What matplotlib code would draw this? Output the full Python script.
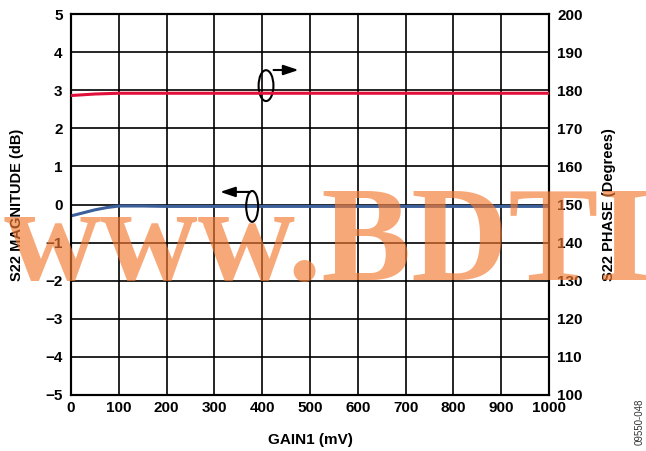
import matplotlib
matplotlib.use("Agg")
import matplotlib.pyplot as plt
from matplotlib.patches import Ellipse

plt.rcParams['font.family'] = ['Liberation Sans', 'DejaVu Sans']

gain_mv = [0, 25, 50, 75, 100, 150, 200, 300, 400, 500, 600, 700, 800, 900, 1000]
s22_mag_db = [-0.30, -0.22, -0.14, -0.08, -0.04, -0.04, -0.05, -0.05, -0.05, -0.05, -0.05, -0.05, -0.05, -0.05, -0.05]
s22_phase_deg = [178.6, 178.8, 179.0, 179.1, 179.2, 179.2, 179.2, 179.2, 179.2, 179.2, 179.2, 179.2, 179.2, 179.2, 179.2]

xticks = list(range(0, 1001, 100))
left_ticks = list(range(-5, 6))
right_ticks = list(range(100, 201, 10))

fig = plt.figure(figsize=(6.46, 4.51), dpi=100)
ax = fig.add_axes([71/646, 1 - 395/451, (549-71)/646, (395-14)/451])
ax2 = ax.twinx()

ax.set_xlim(0, 1000)
ax.set_ylim(-5, 5)
ax2.set_ylim(100, 200)
ax.set_xticks(xticks)
ax.set_yticks(left_ticks)
ax2.set_yticks(right_ticks)
ax.grid(True, color='black', linewidth=1.2)
for a in (ax, ax2):
    for s in a.spines.values():
        s.set_linewidth(1.5)
    a.tick_params(length=0, labelsize=11, width=0)
    for lab in a.get_xticklabels() + a.get_yticklabels():
        lab.set_fontweight('bold')
ax.tick_params(axis='x', pad=4)
ax.tick_params(axis='y', pad=6)
ax2.tick_params(axis='y', pad=6)

ax.plot(gain_mv, s22_mag_db, color='#3B5F9A', linewidth=2.2, zorder=3)
ax2.plot(gain_mv, s22_phase_deg, color='#E0103A', linewidth=2.2, zorder=3)

ax.set_xlabel('GAIN1 (mV)', fontsize=11, fontweight='bold', labelpad=13)
ax.set_ylabel('S22 MAGNITUDE (dB)', fontsize=10.5, fontweight='bold', labelpad=15)
ax2.set_ylabel('S22 PHASE (Degrees)', fontsize=10.5, fontweight='bold', labelpad=14)

# annotation ellipses and arrows
ax.add_patch(Ellipse((408, 3.12), 31, 0.81, fill=False, edgecolor='black', linewidth=1.5, zorder=5))
ax.annotate('', xy=(482, 3.53), xytext=(418, 3.53),
            arrowprops=dict(arrowstyle='-|>,head_length=0.9,head_width=0.3', color='black', lw=1.5), zorder=5)
ax.add_patch(Ellipse((379, -0.05), 25, 0.81, fill=False, edgecolor='black', linewidth=1.5, zorder=5))
ax.annotate('', xy=(306, 0.33), xytext=(379, 0.33),
            arrowprops=dict(arrowstyle='-|>,head_length=0.9,head_width=0.3', color='black', lw=1.5), zorder=5)

fig.text(0.006, 1 - 280/451, 'www.BDTIC.com', fontsize=97, color='#F47A30', alpha=0.65,
         family=['Liberation Serif', 'DejaVu Serif'], fontweight='bold', ha='left', va='baseline', zorder=10)

fig.text(640/646, 1 - 422/451, '09550-048', rotation=90, fontsize=7, color='#333333', ha='center', va='center')

fig.savefig('out.png', dpi=100)
